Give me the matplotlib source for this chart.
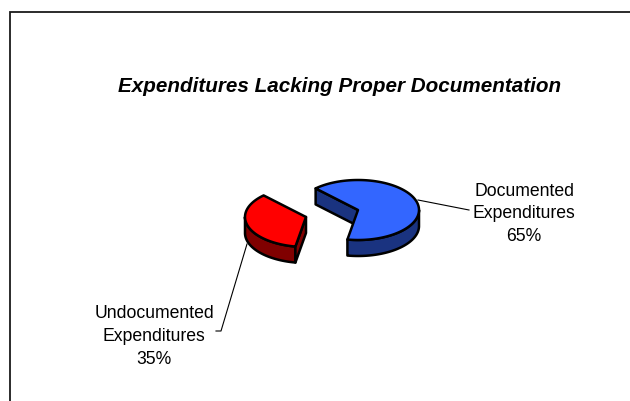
import numpy as np
import matplotlib
matplotlib.use("Agg")
import matplotlib.pyplot as plt
from matplotlib.patches import Polygon

plt.rcParams['font.family'] = ['Liberation Sans', 'DejaVu Sans']

categories = ["Documented\nExpenditures", "Undocumented\nExpenditures"]
shares = [65, 35]
title_text = "Expenditures Lacking Proper Documentation"

W, H = 630, 402
fig = plt.figure(figsize=(W / 100, H / 100), dpi=100)
ax = fig.add_axes([0, 0, 1, 1])
ax.set_xlim(0, W)
ax.set_ylim(H, 0)
ax.axis("off")

RX, RY, DEPTH = 61, 30, 16
START_DEG = 134  # where the first slice begins, counter-clockwise
CENTERS = [(358, 211), (306, 218)]
TOPS = ["#3366FF", "#FF0000"]
SIDES = ["#1A3380", "#800000"]
EDGE = dict(edgecolor="black", linewidth=1.8, joinstyle="round")


def rim(cx, cy, a0, a1, drop=0):
    t = np.radians(np.linspace(a0, a1, 120))
    return np.column_stack([cx + RX * np.cos(t), cy - RY * np.sin(t) + drop])


def wall(cx, cy, a0, a1, color):
    pts = np.vstack([rim(cx, cy, a0, a1), rim(cx, cy, a1, a0, DEPTH)])
    ax.add_patch(Polygon(pts, closed=True, facecolor=color, **EDGE))


def cut_face(cx, cy, a, color):
    edge = rim(cx, cy, a, a, 0)[0]
    pts = [(cx, cy), edge, edge + [0, DEPTH], (cx, cy + DEPTH)]
    ax.add_patch(Polygon(pts, closed=True, facecolor=color, **EDGE))


# Slice extents follow from the shares: the small slice starts at START_DEG
# and the large one takes the rest of the circle
sweeps = np.array(shares) / sum(shares) * 360
small_end = START_DEG + sweeps[1]
spans = [(small_end, small_end + sweeps[0]), (START_DEG, small_end)]

# Documented slice
(cx, cy), (a0, a1) = CENTERS[0], spans[0]
cut_face(cx, cy, a1, SIDES[0])
wall(cx, cy, a0, 360, SIDES[0])
ax.add_patch(Polygon(np.vstack([[(cx, cy)], rim(cx, cy, a0, a1)]), closed=True,
                     facecolor=TOPS[0], **EDGE))

# Undocumented slice
(cx, cy), (a0, a1) = CENTERS[1], spans[1]
wall(cx, cy, 180, a1, SIDES[1])
cut_face(cx, cy, a1, SIDES[1])
ax.add_patch(Polygon(np.vstack([[(cx, cy)], rim(cx, cy, a0, a1)]), closed=True,
                     facecolor=TOPS[1], **EDGE))

# Leader lines
ax.plot([418, 469], [201, 211], color="black", lw=0.8)
ax.plot([247, 221, 216], [245, 332, 332], color="black", lw=0.8)

# Slide frame: only the top and left rules fall inside the canvas
ax.plot([9.5, 9.5, W], [H, 13, 13], color="#1a1a1a", lw=1.3, solid_joinstyle="miter")

ax.text(339.5, 86, title_text, ha="center", va="center", fontsize=14.9,
        fontweight="bold", fontstyle="italic")
ax.text(524, 214, f"{categories[0]}\n{shares[0]}%", ha="center", va="center",
        fontsize=12.7, linespacing=1.43)
ax.text(154, 336.5, f"{categories[1]}\n{shares[1]}%", ha="center", va="center",
        fontsize=12.7, linespacing=1.43)

fig.savefig("out.png", dpi=100)
